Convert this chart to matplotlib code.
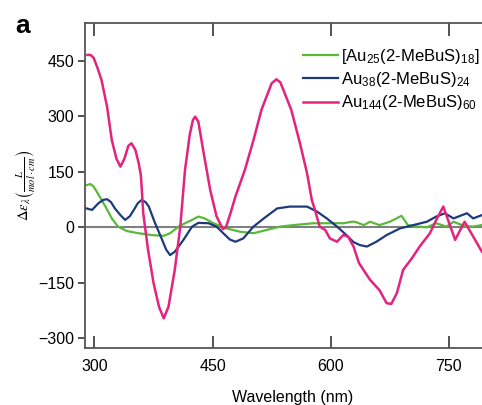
import matplotlib
matplotlib.use("Agg")
import matplotlib.pyplot as plt

plt.rcParams['font.family'] = ['Liberation Sans', 'DejaVu Sans']
plt.rcParams['mathtext.fontset'] = 'stix'

# ---- data ----
wl_au144 = [291, 295, 299, 304, 309, 316, 322, 328, 333, 338, 343, 347, 352, 356, 359, 362,
            368, 375, 382, 388, 394, 402, 409, 415, 421, 425, 428, 432, 438, 447, 455, 463,
            467, 473, 479, 491, 502, 512, 525, 531, 536, 540, 550, 561, 570, 576,
            580, 586, 593, 599, 608, 616, 622, 629, 636, 650, 662, 671, 677, 684, 692, 703,
            713, 726, 734, 743, 749, 758, 770, 781, 792]
de_au144 = [466, 466, 458, 430, 398, 326, 236, 185, 164, 185, 220, 227, 209, 175, 140, 38,
            -60, -150, -215, -246, -215, -115, 2, 155, 250, 290, 299, 285, 209, 101, 30, -5,
            0, 40, 83, 155, 236, 317, 389, 400, 392, 371, 317, 227, 146, 74,
            47, 2, -7, -30, -39, -21, -25, -52, -97, -142, -170, -205, -207, -178, -115, -84,
            -52, -16, 20, 56, 20, -34, 15, -25, -66]

wl_au38 = [290, 297, 305, 311, 316, 321, 326, 333, 339, 345, 350, 355, 360, 365, 369, 377,
           386, 391, 396, 402, 413, 424, 432, 445, 455, 466, 472, 479, 489, 502, 515, 532,
           548, 570, 583, 595, 608, 620, 629, 637, 646, 658, 671, 688, 705, 722, 734, 745,
           756, 762, 773, 781, 792]
de_au38 = [51, 47, 65, 74, 76, 68, 51, 33, 20, 30, 47, 65, 74, 68, 56, 11,
           -34, -60, -75, -66, -34, 2, 12, 11, 2, -21, -33, -39, -30, 2, 24, 51,
           56, 56, 42, 24, 2, -21, -40, -48, -52, -39, -21, -3, 6, 15, 29, 38,
           24, 29, 38, 24, 33]

wl_au25 = [290, 295, 299, 303, 314, 322, 330, 341, 356, 373, 388, 396, 407, 415, 424, 432,
           440, 451, 462, 468, 485, 502, 519, 536, 553, 578, 599, 616, 627, 631, 642, 650,
           662, 675, 690, 698, 709, 722, 734, 747, 756, 769, 781, 792]
de_au25 = [114, 117, 110, 96, 56, 24, 2, -10, -16, -21, -23, -16, 2, 11, 20, 29,
           24, 11, 2, -3, -12, -16, -7, 2, 6, 11, 11, 11, 15, 15, 6, 15,
           6, 15, 31, 6, 2, 0, 11, 2, 15, 4, 2, 6]

labels = [r'[Au$_{\mathregular{25}}$(2-MeBuS)$_{\mathregular{18}}$] $^{\mathregular{-}}$',
          r'Au$_{\mathregular{38}}$(2-MeBuS)$_{\mathregular{24}}$',
          r'Au$_{\mathregular{144}}$(2-MeBuS)$_{\mathregular{60}}$']
colors = ['#5bb83a', '#1c3a7c', '#e3237e']

xticks = [300, 450, 600, 750]
yticks = [-300, -150, 0, 150, 300, 450]

W, H = 482, 405
fig = plt.figure(figsize=(W / 100, H / 100), dpi=100)
left_px, right_px, top_px, bot_px = 85, 500, 22.7, 348.3
ax = fig.add_axes([left_px / W, 1 - bot_px / H, (right_px - left_px) / W, (bot_px - top_px) / H])

ax.axhline(0, color='#808080', lw=1.5, zorder=1)
ax.plot(wl_au25, de_au25, color=colors[0], lw=1.6, label=labels[0], zorder=2)
ax.plot(wl_au38, de_au38, color=colors[1], lw=1.6, label=labels[1], zorder=3)
ax.plot(wl_au144, de_au144, color=colors[2], lw=1.8, label=labels[2], zorder=4)

ax.set_xlim(288, 815)
ax.set_ylim(-327, 553)
ax.set_xticks(xticks)
ax.set_yticks(yticks)
ax.set_yticklabels(['\u2212300', '\u2212150', '0', '150', '300', '450'])
ax.tick_params(axis='x', direction='in', length=9, width=1.3, top=True, labelsize=11.5,
               pad=8, color='#444444')
ax.tick_params(axis='y', direction='out', length=5, width=1.3, labelsize=11.5, pad=3,
               color='#444444')
for s in ax.spines.values():
    s.set_color('#555555')
    s.set_linewidth(1.3)

ax.set_xlabel('Wavelength (nm)', fontsize=11.5, labelpad=11)
ax.set_ylabel(r'$\Delta\varepsilon_{\lambda}\left(\frac{L}{mol\cdot cm}\right)$', fontsize=10.5,
              labelpad=0)

ax.legend(loc='upper left', bbox_to_anchor=((303 - left_px) / (right_px - left_px), 0.925),
          frameon=False, fontsize=12, handlelength=2.1, handletextpad=0.2,
          labelspacing=0.25, borderpad=0, borderaxespad=0)

fig.text(15 / W, 1 - 33 / H, 'a', fontsize=19, fontweight='bold')

fig.savefig('out.png', dpi=100)
